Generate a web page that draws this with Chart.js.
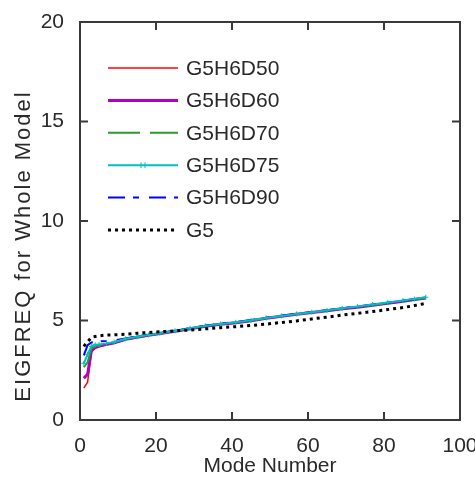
<!DOCTYPE html>
<html>
<head>
<meta charset="utf-8">
<script src="https://cdn.jsdelivr.net/npm/chart.js@4.4.1/dist/chart.umd.min.js"></script>
<style>
  body { margin: 0; background: #fff; }
  canvas { display: block; }
</style>
</head>
<body>
<canvas id="myChart" width="475" height="477"></canvas>
<script>
const modes = [1, 2, 3, 4, 5, 7, 9, 12, 15, 18, 21, 25, 29, 33, 37, 41, 45, 49, 53, 57, 61, 65, 69, 73, 77, 81, 85, 88, 91];

const d50 = [1.60, 1.90, 3.42, 3.60, 3.68, 3.78, 3.86, 4.04, 4.15, 4.24, 4.32, 4.45, 4.57, 4.70, 4.80, 4.88, 4.98, 5.10, 5.20, 5.30, 5.40, 5.49, 5.58, 5.66, 5.76, 5.86, 5.96, 6.04, 6.12];
const d60 = [2.10, 2.30, 3.50, 3.65, 3.72, 3.80, 3.88, 4.06, 4.16, 4.26, 4.34, 4.46, 4.59, 4.71, 4.81, 4.89, 4.99, 5.11, 5.21, 5.31, 5.40, 5.49, 5.59, 5.67, 5.77, 5.87, 5.97, 6.05, 6.13];
const d70 = [2.65, 2.90, 3.60, 3.70, 3.75, 3.82, 3.90, 4.07, 4.17, 4.26, 4.34, 4.47, 4.60, 4.72, 4.82, 4.90, 5.00, 5.12, 5.22, 5.32, 5.41, 5.50, 5.60, 5.68, 5.78, 5.88, 5.98, 6.06, 6.14];
const d75 = [2.85, 3.30, 3.70, 3.78, 3.80, 3.85, 3.92, 4.08, 4.18, 4.27, 4.36, 4.48, 4.61, 4.73, 4.83, 4.91, 5.01, 5.13, 5.23, 5.33, 5.42, 5.51, 5.61, 5.70, 5.80, 5.90, 6.00, 6.08, 6.17];
const d90 = [3.25, 3.76, 3.90, 3.93, 3.95, 3.97, 4.00, 4.10, 4.20, 4.29, 4.37, 4.49, 4.62, 4.74, 4.84, 4.92, 5.02, 5.14, 5.24, 5.34, 5.43, 5.52, 5.62, 5.70, 5.80, 5.89, 5.99, 6.07, 6.14];
const g5  = [3.70, 3.93, 4.15, 4.20, 4.23, 4.27, 4.28, 4.31, 4.36, 4.40, 4.43, 4.48, 4.52, 4.58, 4.64, 4.69, 4.75, 4.82, 4.90, 4.98, 5.08, 5.17, 5.27, 5.36, 5.45, 5.55, 5.65, 5.75, 5.86];

const xTicks = [0, 20, 40, 60, 80, 100];
const yTicks = [0, 5, 10, 15, 20];

const textColor = "#2a2a2a";
const axisColor = "#3a3a3a";
const fontFamily = "'Liberation Sans', Arial, sans-serif";

function pts(vals) {
  return modes.map((m, i) => ({ x: m, y: vals[i] }));
}

const series = [
  { label: "G5H6D50", data: pts(d50), borderColor: "#ff0000", borderWidth: 1.5, borderDash: [], order: 5 },
  { label: "G5H6D60", data: pts(d60), borderColor: "#b000c0", borderWidth: 3, borderDash: [], order: 4 },
  { label: "G5H6D70", data: pts(d70), borderColor: "#2a9a2a", borderWidth: 2, borderDash: [32, 10], order: 3 },
  { label: "G5H6D75", data: pts(d75), borderColor: "#00bfbf", borderWidth: 2, borderDash: [], order: 1,
    pointStyle: "cross", pointRadius: 2.5, pointBorderWidth: 1, pointBorderColor: "#00bfbf" },
  { label: "G5H6D90", data: pts(d90), borderColor: "#0000ff", borderWidth: 2, borderDash: [17, 8, 6, 10], order: 2 },
  { label: "G5", data: pts(g5), borderColor: "#000000", borderWidth: 3, borderDash: [3, 4], order: 0 }
];
series.forEach(s => {
  s.fill = false;
  s.tension = 0;
  if (s.pointRadius === undefined) s.pointRadius = 0;
});

// box, inward ticks, y title and legend in MATLAB style
const matlabLook = {
  id: "matlabLook",
  afterDraw(chart) {
    const ctx = chart.ctx;
    const a = chart.chartArea;
    const xs = chart.scales.x, ys = chart.scales.y;
    ctx.save();
    ctx.strokeStyle = axisColor;
    ctx.lineWidth = 2;
    ctx.setLineDash([]);
    ctx.strokeRect(a.left, a.top, a.right - a.left, a.bottom - a.top);
    ctx.beginPath();
    xTicks.slice(1, -1).forEach(v => {
      const px = xs.getPixelForValue(v);
      ctx.moveTo(px, a.bottom); ctx.lineTo(px, a.bottom - 8);
      ctx.moveTo(px, a.top); ctx.lineTo(px, a.top + 8);
    });
    yTicks.slice(1, -1).forEach(v => {
      const py = ys.getPixelForValue(v);
      ctx.moveTo(a.left, py); ctx.lineTo(a.left + 8, py);
      ctx.moveTo(a.right, py); ctx.lineTo(a.right - 8, py);
    });
    ctx.stroke();

    // y axis title
    ctx.save();
    ctx.translate(24, (a.top + a.bottom) / 2 + 25);
    ctx.rotate(-Math.PI / 2);
    ctx.font = "22px " + fontFamily;
    ctx.letterSpacing = "2px";
    ctx.fillStyle = textColor;
    ctx.textAlign = "center";
    ctx.textBaseline = "middle";
    ctx.fillText("EIGFREQ for Whole Model", 0, 0);
    ctx.restore();

    // legend
    ctx.font = "21px " + fontFamily;
    ctx.textAlign = "left";
    ctx.textBaseline = "middle";
    chart.data.datasets.forEach((ds, i) => {
      const y = 68 + i * 32.4;
      ctx.strokeStyle = ds.borderColor;
      ctx.lineWidth = ds.borderWidth;
      ctx.setLineDash(ds.borderDash || []);
      ctx.beginPath();
      ctx.moveTo(108, y);
      ctx.lineTo(178, y);
      ctx.stroke();
      if (ds.pointStyle === "cross") {
        ctx.setLineDash([]);
        ctx.lineWidth = 1;
        ctx.beginPath();
        ctx.moveTo(141, y - 3); ctx.lineTo(141, y + 3);
        ctx.moveTo(145, y - 3); ctx.lineTo(145, y + 3);
        ctx.stroke();
      }
      ctx.fillStyle = textColor;
      ctx.fillText(ds.label, 186, y + 1);
    });
    ctx.restore();
  }
};

const ctx = document.getElementById("myChart");
new Chart(ctx, {
  type: "line",
  data: { datasets: series },
  plugins: [matlabLook],
  options: {
    responsive: false,
    animation: false,
    devicePixelRatio: 1,
    layout: { padding: { top: 22, right: 15, left: 0, bottom: 0 } },
    plugins: {
      legend: { display: false },
      tooltip: { enabled: false }
    },
    scales: {
      x: {
        type: "linear",
        min: 0,
        max: 100,
        afterBuildTicks: (s) => { s.ticks = xTicks.map(v => ({ value: v })); },
        ticks: { color: textColor, padding: 6, font: { family: fontFamily, size: 21 } },
        grid: { display: false },
        border: { display: false },
        title: { display: true, text: "Mode Number", color: textColor, padding: 0,
          font: { family: fontFamily, size: 21, lineHeight: 1 } },
        afterFit: (s) => { s.height = 57; s.paddingRight = 0; s.paddingLeft = 0; }
      },
      y: {
        min: 0,
        max: 20,
        afterBuildTicks: (s) => { s.ticks = yTicks.map(v => ({ value: v })); },
        ticks: { color: textColor, padding: 8, font: { family: fontFamily, size: 21 } },
        grid: { display: false },
        border: { display: false },
        afterFit: (s) => { s.width = 80; }
      }
    }
  }
});
</script>
</body>
</html>
